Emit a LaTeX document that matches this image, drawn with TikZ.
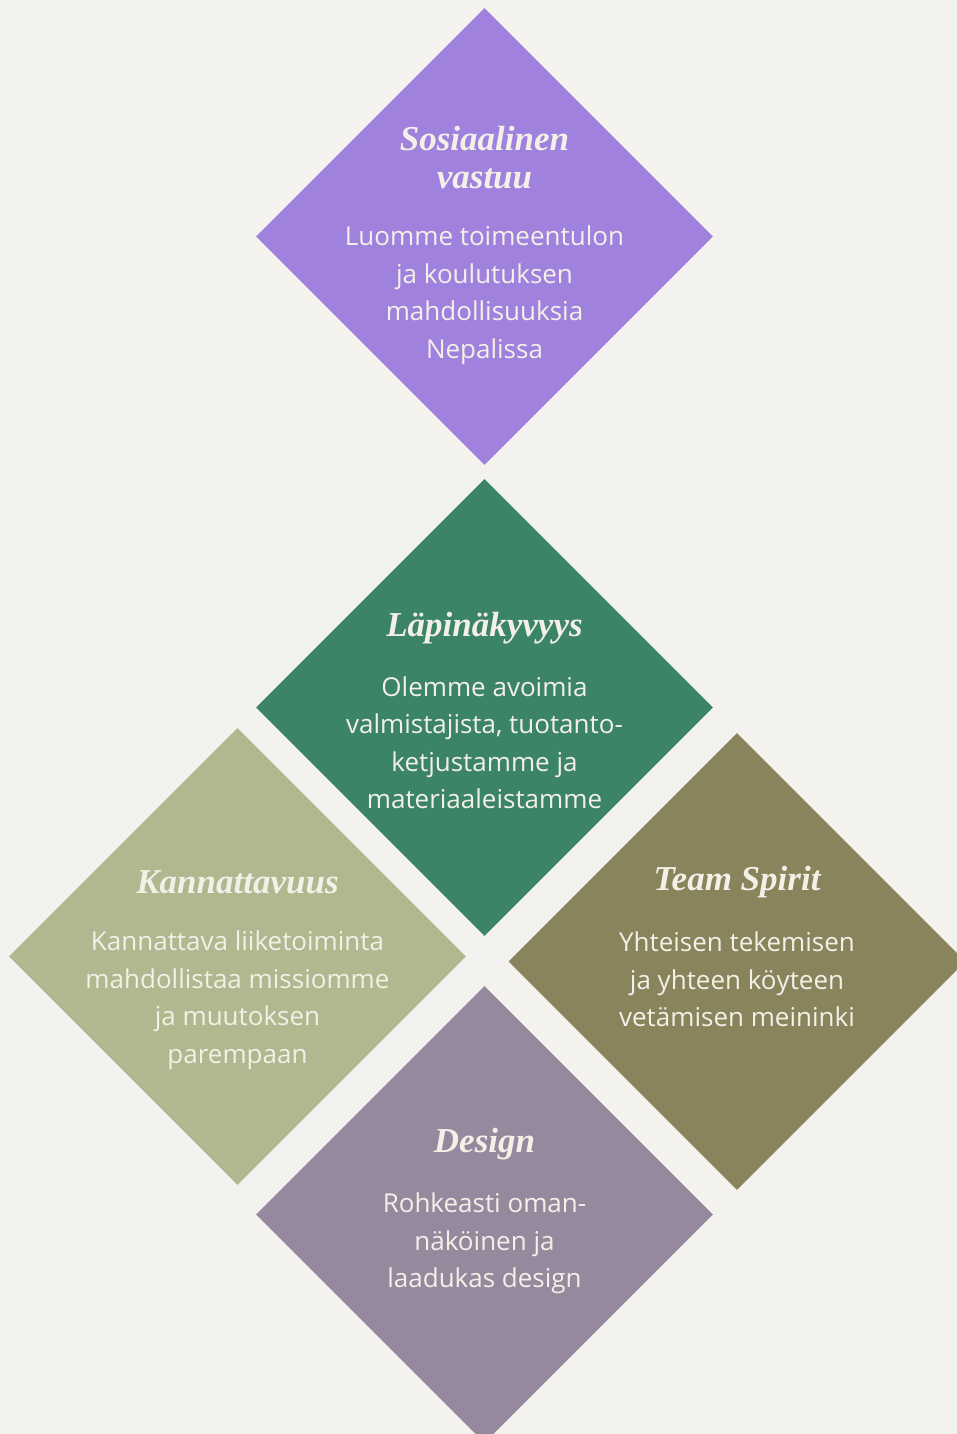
\documentclass[tikz,border=0pt]{standalone}
\usepackage{fontspec}
\setmainfont{Open Sans}
\newfontfamily\titlefont{Liberation Serif}
\usetikzlibrary{shapes.geometric}
\definecolor{bg}{HTML}{F3F2EE}
\definecolor{cpurple}{HTML}{A081DE}
\definecolor{cgreen}{HTML}{3B8467}
\definecolor{colive}{HTML}{AFB88F}
\definecolor{cbrown}{HTML}{8A845D}
\definecolor{cmauve}{HTML}{96899E}
\definecolor{ctext}{HTML}{F3F0E8}
\tikzset{
  dia/.style={diamond, aspect=1, minimum width=457pt, minimum height=457pt, inner sep=0pt, draw=none},
  ttl/.style={text=ctext, align=center, font=\titlefont\bfseries\itshape\fontsize{35}{38}\selectfont},
  body/.style={text=ctext, align=center, font=\fontsize{26}{37.5}\selectfont}
}
\begin{document}
\begin{tikzpicture}[x=1pt,y=-1pt]
\fill[bg] (0,0) rectangle (957,1434);
\useasboundingbox (0,0) rectangle (957,1434);
\clip (0,0) rectangle (957,1434);
\node[dia, fill=cpurple] (d1) at (484.5,236.5) {};
\node[dia, fill=cgreen] (d2) at (484.5,707.5) {};
\node[dia, fill=colive] (d3) at (237.5,956.5) {};
\node[dia, fill=cbrown] (d4) at (737,961.5) {};
\node[dia, fill=cmauve] (d5) at (484.5,1214.5) {};

\node[ttl] (t1) at (484.5,158) {Sosiaalinen\\vastuu};
\node[body] (b1) at (484.5,295) {Luomme toimeentulon\\ja koulutuksen\\mahdollisuuksia\\Nepalissa};

\node[ttl] (t2) at (484.5,628) {Läpinäkyvyys};
\node[body] (b2) at (484.5,742.5) {Olemme avoimia\\valmistajista, tuotanto-\\ketjustamme ja\\materiaaleistamme};

\node[ttl] (t3) at (237.5,882) {Kannattavuus};
\node[body] (b3) at (237.5,1000) {Kannattava liiketoiminta\\mahdollistaa missiomme\\ja muutoksen\\parempaan};

\node[ttl] (t4) at (737,882) {Team Spirit};
\node[body] (b4) at (737,979.5) {Yhteisen tekemisen\\ja yhteen köyteen\\vetämisen meininki};

\node[ttl] (t5) at (484.5,1144) {Design};
\node[body] (b5) at (484.5,1243.5) {Rohkeasti oman-\\näköinen ja\\laadukas design};
\end{tikzpicture}
\end{document}
